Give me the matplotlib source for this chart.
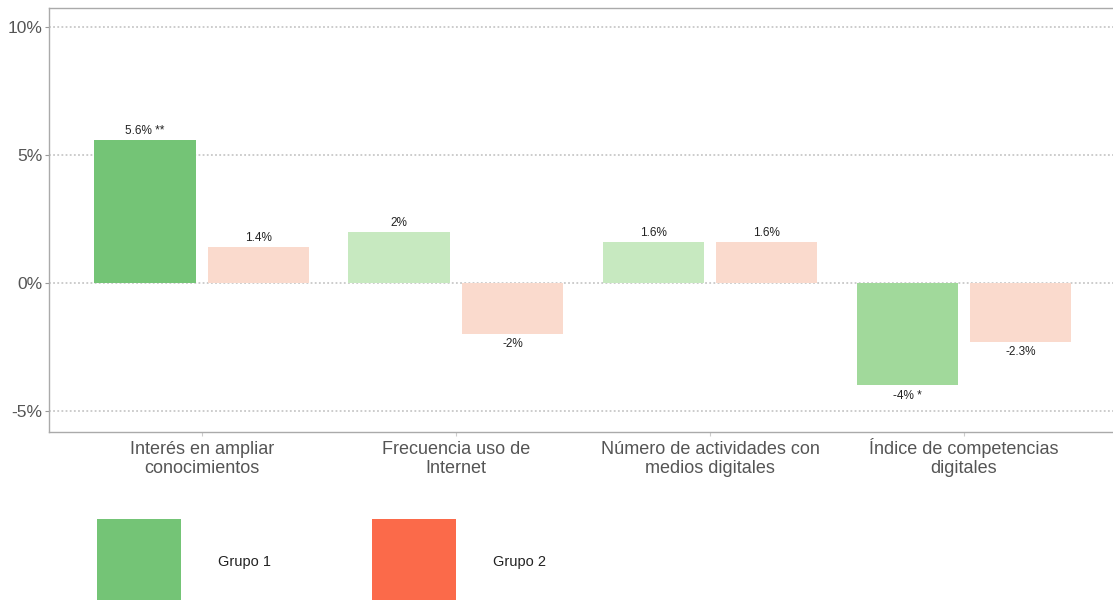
import matplotlib
matplotlib.use("Agg")
import matplotlib.pyplot as plt
import matplotlib.transforms as mtransforms
import numpy as np
from matplotlib.patches import Rectangle
from matplotlib.ticker import FuncFormatter

categories = ["Interés en ampliar\nconocimientos", "Frecuencia uso de\nInternet",
              "Número de actividades con\nmedios digitales", "Índice de competencias\ndigitales"]
grupo1 = [5.6, 2.0, 1.6, -4.0]
grupo2 = [1.4, -2.0, 1.6, -2.3]
labels1 = ["5.6% **", "2%", "1.6%", "-4% *"]
labels2 = ["1.4%", "-2%", "1.6%", "-2.3%"]
yticks = [-5, 0, 5, 10]
legend_labels = ["Grupo 1", "Grupo 2"]

colors1 = ["#74c476", "#c7e9c0", "#c7e9c0", "#a1d99b"]
colors2 = ["#fadacd", "#fadacd", "#fadacd", "#fadacd"]
legend_colors = ["#74c476", "#fb6a4a"]

plt.rcParams['font.family'] = ['Liberation Sans', 'DejaVu Sans']

W, H = 1113, 600
fig = plt.figure(figsize=(W/100, H/100), dpi=100)
ax = fig.add_axes([49/W, 1-432/H, (1116-49)/W, (432-8)/H])

x = np.arange(len(categories))
off = 0.224
w = 0.398
for yv in yticks:
    ax.axhline(yv, color="#c8c8c8", lw=1.3, ls=(0, (1, 1.3)), zorder=0)
b1 = ax.bar(x - off, grupo1, w, color=colors1, zorder=2)
b2 = ax.bar(x + off, grupo2, w, color=colors2, zorder=2)

for bars, labs in ((b1, labels1), (b2, labels2)):
    for r, lab in zip(bars, labs):
        h = r.get_height()
        xc = r.get_x() + r.get_width()/2
        if h >= 0:
            ax.annotate(lab, (xc, h), xytext=(0, 2), textcoords="offset points",
                        ha="center", va="bottom", fontsize=8.5, color="#222222")
        else:
            ax.annotate(lab, (xc, h), xytext=(0, -3), textcoords="offset points",
                        ha="center", va="top", fontsize=8.5, color="#222222")

ax.set_xlim(-0.602, (1116-202)/254)
ax.set_ylim(-5.82, 10.74)
ax.set_yticks(yticks)
ax.yaxis.set_major_formatter(FuncFormatter(lambda v, p: f"{v:.0f}%"))
ax.set_xticks(x)
ax.set_xticklabels([""] * len(categories))
trans = mtransforms.blended_transform_factory(ax.transData, fig.transFigure)
for xi, cat in zip(x, categories):
    for k, line in enumerate(cat.split("\n")):
        ax.text(xi, 1 - (454 + 19*k)/H, line, transform=trans, ha="center",
                va="baseline", fontsize=13, color="#555555", clip_on=False)
ax.tick_params(axis="y", labelsize=12.5, labelcolor="#555555", color="#999999", length=3, pad=2)
ax.tick_params(axis="x", color="#cccccc", length=3, pad=4)
for s in ax.spines.values():
    s.set_color("#aaaaaa")
    s.set_linewidth(1.0)

# legend drawn as figure artists
leg_x = [97, 372]
for lx, c, lab in zip(leg_x, legend_colors, legend_labels):
    fig.add_artist(Rectangle((lx/W, 1-603/H), 84/W, 84/H, transform=fig.transFigure,
                             facecolor=c, edgecolor="none"))
    fig.text((lx+121)/W, 1-562/H, lab, fontsize=10.5, color="#222222",
             ha="left", va="center")

fig.savefig("out.png", dpi=100)
